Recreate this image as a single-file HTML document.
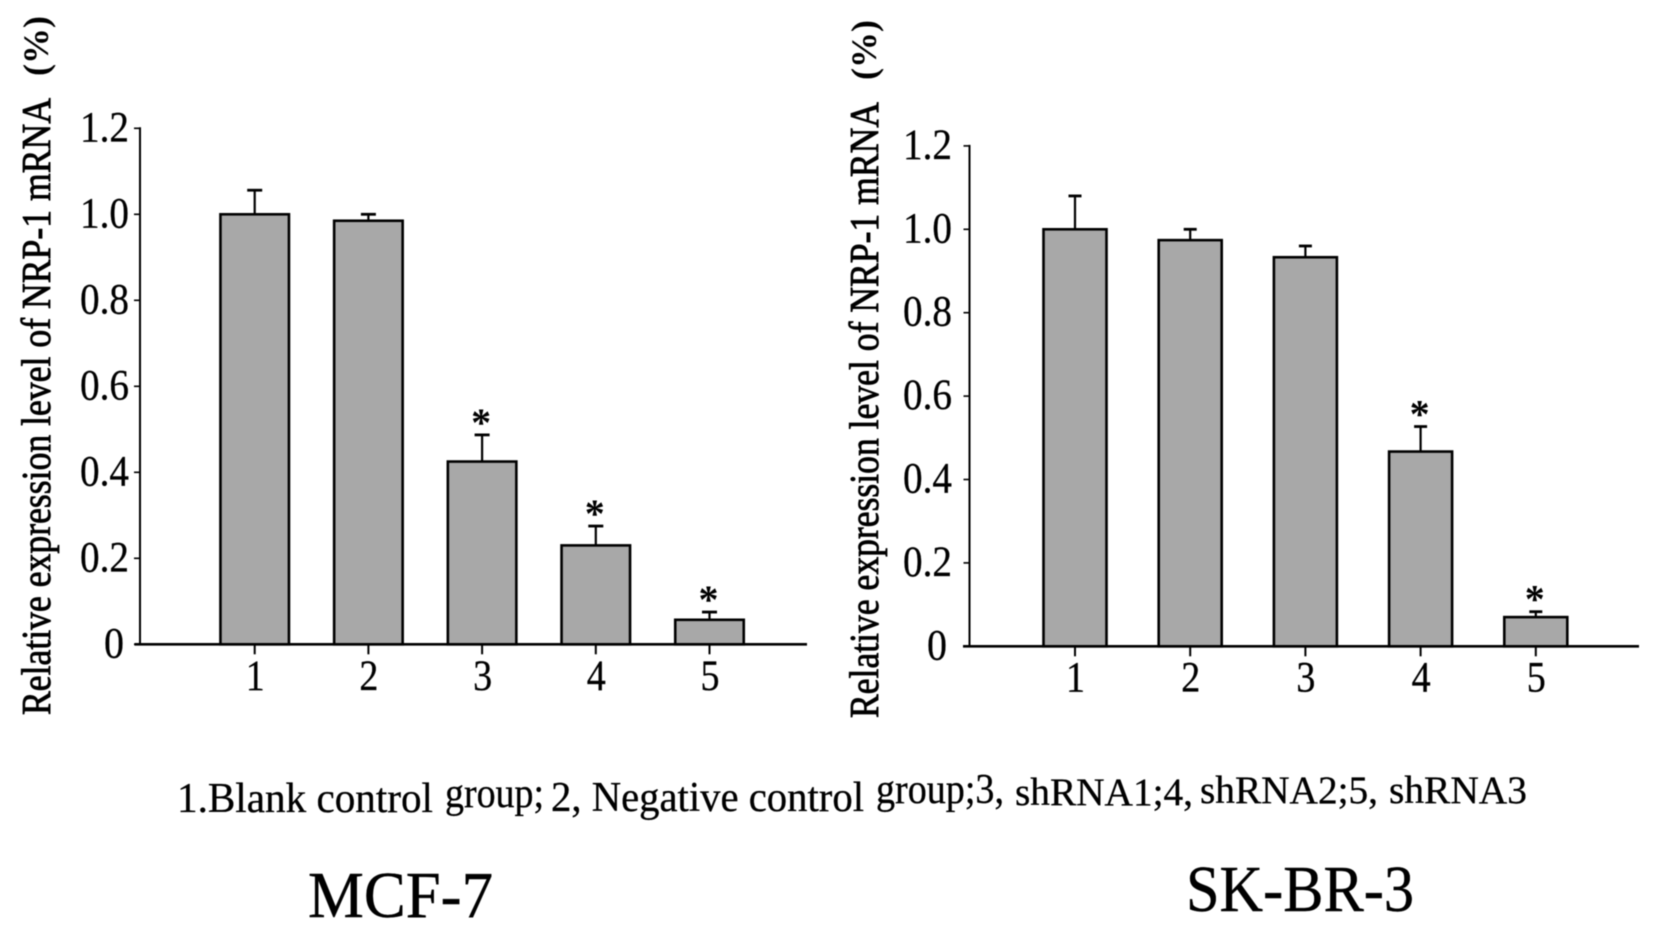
<!DOCTYPE html>
<html lang="en">
<head>
<meta charset="utf-8">
<title>Relative expression level of NRP-1 mRNA</title>
<style>
  html, body { margin: 0; padding: 0; background: #fff; width: 1654px; height: 939px; overflow: hidden; }
  svg { display: block; filter: blur(.45px); }
  text { font-family: "Liberation Serif", "Noto Serif CJK SC", serif; fill: #000; }
  .ytitle { font-size: 41px; stroke: #000; stroke-width: .8px; }
  .yunit { font-size: 36px; font-weight: bold; }
  .caption { font-size: 42px; stroke: #000; stroke-width: .3px; }
  .panel { font-size: 66px; stroke: #000; stroke-width: .4px; }
  .tick-label { stroke: #000; stroke-width: .3px; }
</style>
</head>
<body>
<svg id="figure" width="1654" height="939" viewBox="0 0 1654 939" xmlns="http://www.w3.org/2000/svg">
  <rect x="0" y="0" width="1654" height="939" fill="#fff"/>
  <g id="chart-mcf"></g>
  <g id="chart-skbr"></g>

  <text class="ytitle" transform="translate(50,715) rotate(-90)" textLength="617" lengthAdjust="spacingAndGlyphs">Relative expression level of NRP-1 mRNA</text>
  <text class="yunit" transform="translate(48,76) rotate(-90)">(%)</text>
  <text class="ytitle" transform="translate(878,718) rotate(-90)" textLength="616" lengthAdjust="spacingAndGlyphs">Relative expression level of NRP-1 mRNA</text>
  <text class="yunit" transform="translate(876,80) rotate(-90)">(%)</text>

  <g>
    <text class="caption" x="177" y="812" textLength="256" lengthAdjust="spacingAndGlyphs">1.Blank control</text>
    <text class="caption" x="445" y="807" textLength="99" lengthAdjust="spacingAndGlyphs">group;</text>
    <text class="caption" x="551" y="811" textLength="313" lengthAdjust="spacingAndGlyphs">2, Negative control</text>
    <text class="caption" x="876" y="803" textLength="128" lengthAdjust="spacingAndGlyphs">group;3,</text>
    <text class="caption" x="1015" y="805" textLength="178" lengthAdjust="spacingAndGlyphs" style="font-size:39px">shRNA1;4,</text>
    <text class="caption" x="1200" y="803" textLength="178" lengthAdjust="spacingAndGlyphs" style="font-size:39px">shRNA2;5,</text>
    <text class="caption" x="1389" y="803" textLength="138" lengthAdjust="spacingAndGlyphs" style="font-size:39px">shRNA3</text>
  </g>

  <text class="panel" x="308" y="917" textLength="185" lengthAdjust="spacingAndGlyphs">MCF-7</text>
  <text class="panel" x="1186" y="911" textLength="228" lengthAdjust="spacingAndGlyphs">SK-BR-3</text>
</svg>

<script>
const categories = ['1', '2', '3', '4', '5'];
const yTickValues = [0, 0.2, 0.4, 0.6, 0.8, 1.0, 1.2];
const yTickLabels = ['0', '0.2', '0.4', '0.6', '0.8', '1.0', '1.2'];
const mcfValues = [1.0, 0.985, 0.425, 0.23, 0.057];
const mcfErrorTops = [1.056, 1.0, 0.487, 0.275, 0.075];
const mcfSignificant = [false, false, true, true, true];
const skbrValues = [1.0, 0.974, 0.933, 0.467, 0.07];
const skbrErrorTops = [1.08, 1.0, 0.96, 0.527, 0.083];
const skbrSignificant = [false, false, false, true, true];

const NS = 'http://www.w3.org/2000/svg';
function make(tag, attrs, parent) {
  const node = document.createElementNS(NS, tag);
  for (const key in attrs) node.setAttribute(key, attrs[key]);
  parent.appendChild(node);
  return node;
}

function drawChart(root, prefix, values, errorTops, significant, frame) {
  const yScale = v => frame.zeroY - v * frame.unit;
  const xScale = i => frame.firstX + i * frame.stepX;

  categories.forEach((label, i) => {
    const cx = xScale(i);
    const top = yScale(values[i]);
    const errTop = yScale(errorTops[i]);

    const errorLine = make('line', { x1: cx, x2: cx, y1: top, y2: errTop, stroke: '#000', 'stroke-width': 2.2 }, root);
    
    

    const errorCap = make('line', { x1: cx - frame.capW / 2, x2: cx + frame.capW / 2, y1: errTop, y2: errTop, stroke: '#000', 'stroke-width': 2.8 }, root);
    
    

    const bar = make('rect', { x: cx - frame.barW / 2, y: top, width: frame.barW, height: frame.zeroY - top, fill: '#a8a8a8', stroke: '#000', 'stroke-width': 2.6 }, root);
    
    

    if (significant[i]) {
      const star = make('text', { x: cx - 1, y: errTop + 1, 'text-anchor': 'middle', 'font-size': 40, 'font-weight': 'bold' }, root);
      
      
      star.textContent = '*';
    }

    const xTick = make('line', { x1: cx, x2: cx, y1: frame.zeroY, y2: frame.zeroY + 10, stroke: '#000', 'stroke-width': 2 }, root);
    
    

    const xLabel = make('text', { class: 'tick-label', x: cx - 9, y: frame.xLabelY, 'font-size': 43, textLength: 19, lengthAdjust: 'spacingAndGlyphs' }, root);
    
    
    xLabel.textContent = label;
  });

  yTickValues.forEach((v, i) => {
    const y = yScale(v);
    const yTick = make('line', { x1: frame.axisX - 6, x2: frame.axisX, y1: y, y2: y, stroke: '#000', 'stroke-width': 1.6 }, root);
    
    

    const isZero = yTickLabels[i].length === 1;
    const yLabel = make('text', {
      class: 'tick-label',
      x: isZero ? frame.labelRight - 25 : frame.labelRight - 49,
      y: y + 13,
      'font-size': 43,
      textLength: isZero ? 20 : 49,
      lengthAdjust: 'spacingAndGlyphs'
    }, root);
    
    
    yLabel.textContent = yTickLabels[i];
  });

  const yAxis = make('line', { x1: frame.axisX, x2: frame.axisX, y1: yScale(1.2) - 1, y2: frame.zeroY, stroke: '#000', 'stroke-width': 2 }, root);
  
  

  const xAxis = make('line', { x1: frame.axisLeft, x2: frame.axisRight, y1: frame.zeroY, y2: frame.zeroY, stroke: '#000', 'stroke-width': 2.6 }, root);
  
  
}

drawChart(document.getElementById('chart-mcf'), 'mcf7', mcfValues, mcfErrorTops, mcfSignificant, {
  zeroY: 644.3, unit: 430, firstX: 254.7, stepX: 113.7, barW: 68.5, capW: 15,
  axisX: 140, axisLeft: 134.5, axisRight: 807, labelRight: 129, xLabelY: 690
});
drawChart(document.getElementById('chart-skbr'), 'skbr3', skbrValues, skbrErrorTops, skbrSignificant, {
  zeroY: 646.3, unit: 417, firstX: 1075, stepX: 115.2, barW: 63, capW: 13,
  axisX: 969.5, axisLeft: 963, axisRight: 1639, labelRight: 952, xLabelY: 691.5
});
</script>
</body>
</html>
